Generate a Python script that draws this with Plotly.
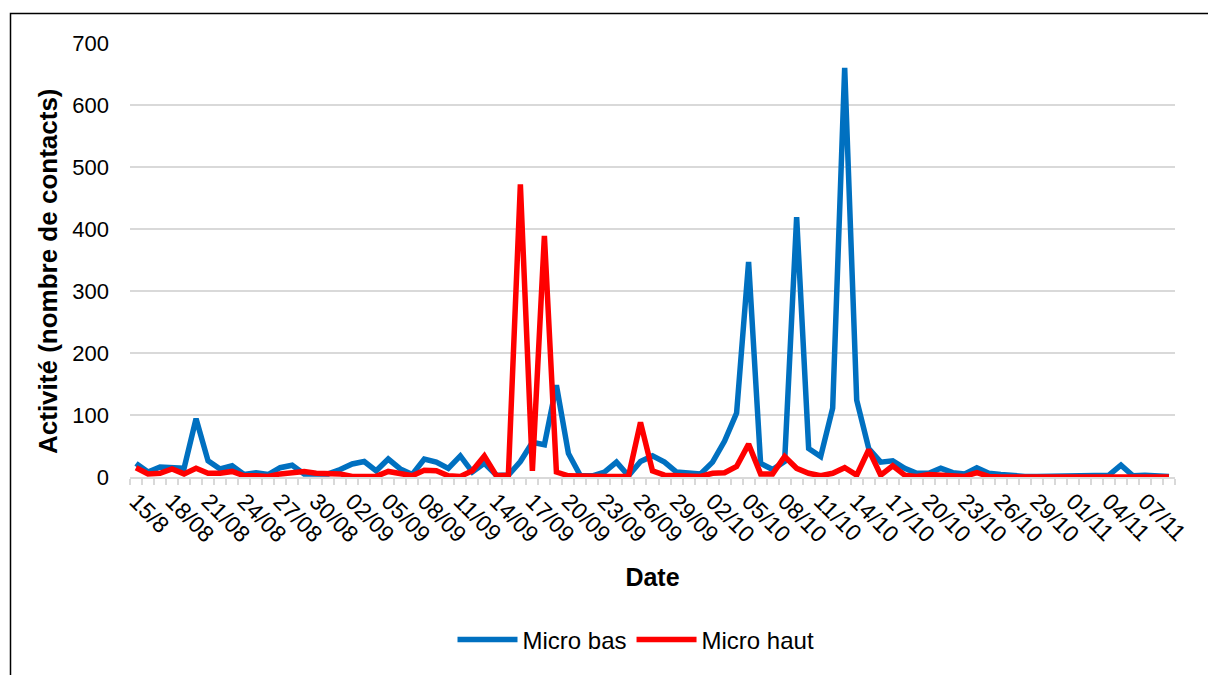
import plotly.graph_objects as go

dates = ["15/8", "16/08", "17/08", "18/08", "19/08", "20/08", "21/08", "22/08", "23/08", "24/08",
         "25/08", "26/08", "27/08", "28/08", "29/08", "30/08", "31/08",
         "01/09", "02/09", "03/09", "04/09", "05/09", "06/09", "07/09", "08/09", "09/09", "10/09",
         "11/09", "12/09", "13/09", "14/09", "15/09", "16/09", "17/09", "18/09", "19/09", "20/09",
         "21/09", "22/09", "23/09", "24/09", "25/09", "26/09", "27/09", "28/09", "29/09", "30/09",
         "01/10", "02/10", "03/10", "04/10", "05/10", "06/10", "07/10", "08/10", "09/10", "10/10",
         "11/10", "12/10", "13/10", "14/10", "15/10", "16/10", "17/10", "18/10", "19/10", "20/10",
         "21/10", "22/10", "23/10", "24/10", "25/10", "26/10", "27/10", "28/10", "29/10", "30/10",
         "31/10", "01/11", "02/11", "03/11", "04/11", "05/11", "06/11", "07/11", "08/11", "09/11"]

micro_bas = [22, 8, 16, 14, 14, 94, 26, 13, 18, 4,
             7, 4, 15, 19, 5, 5, 5, 12, 21, 25,
             10, 29, 13, 4, 29, 24, 14, 34, 8, 22,
             3, 3, 25, 56, 52, 148, 38, 2, 2, 8,
             24, 2, 25, 34, 24, 8, 6, 5, 24, 58,
             103, 347, 22, 12, 25, 419, 46, 33, 111, 660,
             124, 46, 24, 26, 14, 6, 6, 14, 7, 5,
             15, 6, 4, 2, 1, 1, 1, 1, 3, 2,
             1, 3, 19, 2, 3, 2, 1]

micro_haut = [15, 5, 6, 13, 5, 14, 6, 6, 9, 2,
              2, 1, 5, 7, 9, 6, 5, 5, 1, 2,
              1, 9, 5, 2, 11, 10, 2, 1, 10, 34,
              2, 3, 472, 10, 389, 8, 2, 1, 1, 1,
              1, 1, 88, 10, 3, 2, 2, 1, 6, 7,
              17, 53, 5, 5, 33, 14, 6, 2, 6, 15,
              3, 44, 3, 18, 3, 1, 4, 3, 1, 1,
              7, 1, 0, 0, 0, 0, 0, 0, 0, 0,
              0, 0, 0, 0, 0, 0, 0]

series_names = ["Micro bas", "Micro haut"]
series_colors = ["#0070C0", "#FF0000"]
y_ticks = [0, 100, 200, 300, 400, 500, 600, 700]

idx = list(range(len(dates)))
label_idx = idx[::3]
label_txt = [dates[i] for i in label_idx]

FONT = "Liberation Sans, Arial, sans-serif"

fig = go.Figure()
for name, vals, col in zip(series_names, [micro_bas, micro_haut], series_colors):
    fig.add_trace(go.Scatter(x=idx, y=vals, mode="lines", name=name,
                             line=dict(color=col, width=5.5),
                             customdata=dates,
                             hovertemplate="%{customdata}: %{y}<extra>" + name + "</extra>"))

# page body has an 8px margin: work in figure coordinates = screen - 8
OFF = 8
W, H = 1208, 667
L, T = 130 - OFF, 43 - OFF
R = W - (1175 - OFF)
B = H - (477 - OFF)
pw = W - L - R
ph = H - T - B

def px_x(px):
    return (px - OFF - L) / pw

def px_y(py):
    return (H - B - (py - OFF)) / ph

fig.update_layout(
    width=W, height=H,
    margin=dict(l=L, r=R, t=T, b=B, autoexpand=False),
    paper_bgcolor="white", plot_bgcolor="white",
    font=dict(family=FONT, color="black", size=20),
    showlegend=True,
    legend=dict(orientation="h", x=px_x(636), y=px_y(640), xanchor="center", yanchor="middle",
                font=dict(size=24, family=FONT, color="black"),
                itemwidth=60, tracegroupgap=0),
    xaxis=dict(
        range=[-0.5, len(dates) - 0.5],
        tickmode="array", tickvals=label_idx, ticktext=label_txt,
        tickangle=45, ticks="", showgrid=False, zeroline=False,
        showline=True, linecolor="#d9d9d9", linewidth=1.5,
        tickfont=dict(size=23, family=FONT, color="black"),
        minor=dict(tickmode="linear", tick0=-0.5, dtick=1, ticks="outside",
                   ticklen=6, tickcolor="#d9d9d9", tickwidth=1.5, showgrid=False),
        title=dict(text="<b>Date</b>", font=dict(size=25, family=FONT, color="black"), standoff=22),
        automargin=False, fixedrange=True,
    ),
    yaxis=dict(
        range=[0, 700], tickmode="array", tickvals=y_ticks,
        showgrid=True, gridcolor="#d9d9d9", gridwidth=1.5,
        zeroline=False, showline=False, ticks="",
        tickfont=dict(size=22, family=FONT, color="black"),
        ticklabelstandoff=20,
        automargin=False, fixedrange=True,
    ),
    annotations=[dict(text="<b>Activité (nombre de contacts)</b>", textangle=-90,
                      xref="paper", yref="paper", x=px_x(48), y=px_y(271),
                      xanchor="center", yanchor="middle", showarrow=False,
                      font=dict(size=26, family=FONT, color="black"))],
    shapes=[dict(type="rect", xref="paper", yref="paper",
                 x0=px_x(10.5), x1=px_x(1240), y0=px_y(700), y1=px_y(13.5),
                 line=dict(color="black", width=1.5), fillcolor="rgba(0,0,0,0)", layer="below")],
)

fig.write_html("out.html")
